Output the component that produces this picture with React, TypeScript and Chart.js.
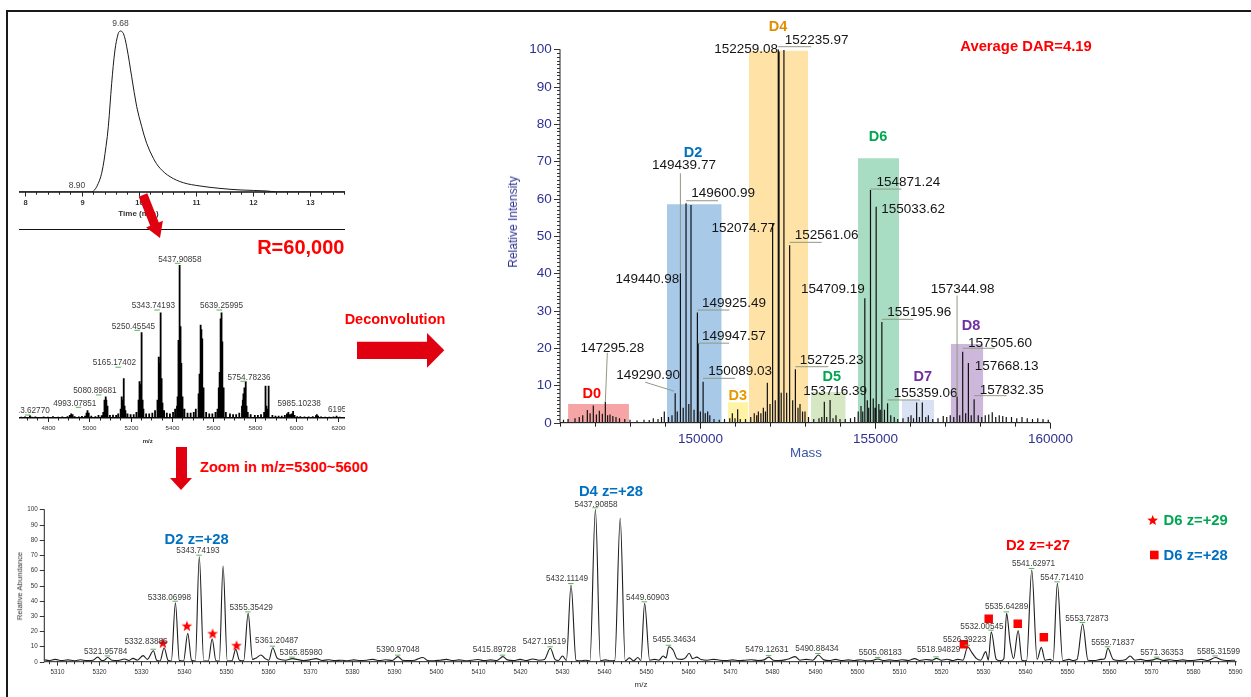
import React, { useEffect, useRef } from "react";
import { Chart, registerables } from "chart.js";

Chart.register(...registerables);

const FONT = "'Liberation Sans', Arial, Helvetica, sans-serif";
const RED = "#e0000f";
const NAVY = "#2e3192";

// ---------------- total ion chromatogram ----------------
const ticTime = [7.9, 8.9, 9.175, 9.263, 9.35, 9.426, 9.467, 9.526, 9.584, 9.642, 9.68, 9.73, 9.789, 9.877, 9.965, 10.053, 10.14, 10.257, 10.374, 10.549, 10.783, 11.075, 11.426, 11.777, 12.245, 12.42, 13.619];
const ticIntensity = [0, 0, 0, 3.1, 10.9, 26.4, 38, 63.2, 82.6, 92.3, 93.6, 92.3, 84.5, 67, 49.6, 38, 28.3, 19.6, 13.8, 8.9, 5.4, 3.5, 2.1, 1.2, 0.6, 0, 0];
const ticMarkedTimes = [9.68, 8.9];

// ---------------- full-scan mass spectrum: [m/z, relative abundance] ----------------
const msPeaks = [
  [4672, 0.8], [4690, 1.0], [4700, 0.6], [4713.6277, 1.8], [4722, 0.8], [4740, 1.0], [4760, 0.7], [4780, 1.0],
  [4800, 0.8], [4825, 1.2], [4850, 0.8], [4870, 1.0], [4895, 1.2], [4906, 2.0], [4913, 3.0], [4920, 2.5],
  [4930, 1.2], [4950, 1.0], [4965, 1.3], [4980, 1.5], [4987, 3.5], [4990, 4.0], [4993.07851, 5.0], [4996, 3.5],
  [4999, 2.0], [5010, 1.5], [5030, 1.2], [5045, 2.0], [5060, 1.8],
  [5068, 4], [5072, 9], [5075, 12], [5078, 13], [5080.89681, 14], [5083, 12], [5086, 8], [5090, 4],
  [5100, 2], [5115, 2.2], [5130, 2], [5140, 3],
  [5152, 6], [5155, 14], [5158, 10], [5162, 12], [5165.17402, 26], [5168, 16], [5171, 8], [5175, 5],
  [5185, 3], [5200, 2.5], [5215, 2.5], [5228, 4],
  [5236, 6], [5240, 12], [5243, 24], [5246, 22], [5248, 20], [5250.45545, 56], [5253, 30], [5255, 16], [5258, 12], [5262, 6],
  [5275, 3], [5290, 3], [5305, 3.5], [5318, 5],
  [5328, 6], [5331, 12], [5334, 25], [5337, 40], [5339, 36], [5341, 30], [5343.74193, 69], [5346, 40], [5348, 26], [5351, 18], [5354, 10],
  [5362, 5], [5375, 3.5], [5390, 3], [5405, 4], [5415, 6],
  [5424, 8], [5427, 14], [5429, 30], [5431, 51], [5433, 48], [5435, 40], [5437.90858, 100], [5440, 60], [5442, 45], [5444, 36], [5446, 30], [5449, 14], [5452, 8],
  [5460, 6], [5475, 3.5], [5490, 3.5], [5505, 4], [5515, 6],
  [5526, 8], [5530, 16], [5533, 29], [5536, 40], [5538, 50], [5540, 61], [5542, 58], [5545, 52], [5547, 30], [5550, 20], [5554, 10],
  [5565, 4], [5580, 3], [5595, 3], [5610, 4], [5620, 6],
  [5624, 10], [5627, 20], [5630, 30], [5633, 45], [5636, 65], [5639.25995, 69], [5642, 50], [5644, 33], [5647, 20], [5651, 10],
  [5660, 4], [5680, 3], [5695, 2.5], [5710, 2.5], [5725, 3.5],
  [5738, 8], [5742, 12], [5745, 16], [5748, 14], [5751, 20], [5754.78236, 24], [5757, 14], [5760, 8], [5766, 4],
  [5780, 2.5], [5800, 2], [5815, 2], [5830, 2.5], [5845, 4],
  [5850, 6], [5853, 21], [5856, 8], [5862, 6], [5865, 21], [5868, 6],
  [5885, 2], [5900, 1.5], [5915, 1.5], [5930, 1.5], [5945, 2], [5955, 3], [5962, 4], [5970, 2.5], [5978, 3], [5985.10238, 4.5], [5992, 2],
  [6005, 1.2], [6020, 1.2], [6040, 1], [6060, 1], [6080, 1.2], [6095, 1.8], [6100, 2.5], [6106, 1.5], [6120, 1], [6140, 0.8],
  [6160, 0.8], [6180, 1], [6195, 1.5], [6210, 0.8], [6230, 0.7],
];
const msLabelMz = [4713.6277, 4993.07851, 5080.89681, 5165.17402, 5250.45545, 5343.74193, 5437.90858, 5639.25995, 5754.78236, 5985.10238, 6195];
const msLabelText = ["4713.62770", "4993.07851", "5080.89681", "5165.17402", "5250.45545", "5343.74193", "5437.90858", "5639.25995", "5754.78236", "5985.10238", "6195"];

// ---------------- deconvoluted spectrum ----------------
const decoMass = [146100, 146230, 146429, 146550, 146650, 146781, 146860, 146952, 147040, 147124, 147210, 147295.28, 147360, 147429, 147510, 147600, 147700, 147850, 148000, 148200, 148400, 148550, 148666, 148800, 148900, 148980, 149100, 149200, 149290.9, 149350, 149439.77, 149440.98, 149520, 149600.99, 149680, 149743, 149830, 149925.49, 149947.57, 150010, 150089.03, 150150, 150219, 150280, 150400, 150550, 150700, 150850, 150924, 151000, 151076, 151150, 151300, 151450, 151550, 151620, 151667, 151740, 151810, 151870, 151924, 152000, 152074.77, 152150, 152235.97, 152259.08, 152320, 152398, 152476, 152561.06, 152648, 152725.23, 152800, 152857, 152930, 153000, 153100, 153250, 153400, 153480, 153552, 153620, 153716.39, 153800, 153886, 154000, 154150, 154300, 154420, 154520, 154600, 154650, 154709.19, 154780, 154820, 154871.24, 154950, 155000, 155033.62, 155110, 155150, 155195.96, 155270, 155359.06, 155450, 155550, 155650, 155800, 155950, 156029, 156100, 156190, 156270, 156352, 156450, 156524, 156650, 156800, 156950, 157050, 157150, 157250, 157344.98, 157420, 157505.6, 157590, 157668.13, 157750, 157832.35, 157950, 158050, 158150, 158250, 158350, 158450, 158550, 158650, 158750, 158900, 159050, 159200, 159350, 159500, 159650, 159800, 159950];
const decoIntensity = [0.8, 1.0, 1.2, 1.5, 2.0, 3.4, 2.5, 4.6, 2.2, 3.2, 2.4, 5.6, 2.0, 2.2, 1.8, 1.5, 1.2, 1.0, 0.8, 0.6, 0.8, 0.7, 1.2, 1.0, 1.5, 3.0, 1.5, 2.0, 7.9, 3.0, 40, 38, 4.0, 58.8, 5.0, 58.3, 3.5, 29.5, 21.3, 3.0, 11.0, 2.5, 3.0, 2.0, 1.0, 0.8, 1.0, 1.2, 2.5, 1.2, 3.6, 1.0, 1.0, 1.5, 2.5, 2.0, 3.0, 2.5, 4.0, 3.0, 10.7, 5.0, 53.4, 6.0, 100, 99.4, 8.0, 99.8, 8.0, 47.5, 6.0, 14.3, 4.0, 5.0, 3.0, 3.0, 1.5, 1.0, 1.2, 1.5, 5.6, 1.5, 6.1, 1.2, 2.0, 1.0, 1.0, 1.2, 1.5, 3.0, 4.5, 3.0, 33.3, 6.0, 4.0, 62.3, 6.5, 4.0, 57.8, 5.0, 3.5, 27.0, 3.5, 5.2, 2.0, 1.5, 1.0, 1.2, 1.5, 2.0, 1.2, 5.4, 1.5, 5.4, 1.5, 2.0, 1.0, 1.2, 1.8, 1.5, 2.0, 1.5, 7.0, 2.0, 19.0, 2.5, 16.0, 2.0, 6.3, 2.0, 1.5, 2.0, 2.2, 2.8, 1.5, 2.0, 1.8, 1.5, 1.5, 1.2, 1.5, 1.2, 1.0, 1.2, 1.0, 0.8];
const decoLabelMass = [147295.28, 149290.9, 149439.77, 149440.98, 149600.99, 149925.49, 149947.57, 150089.03, 152074.77, 152235.97, 152259.08, 152561.06, 152725.23, 153716.39, 154709.19, 154871.24, 155033.62, 155195.96, 155359.06, 157344.98, 157505.6, 157668.13, 157832.35];

// drug-load species windows
const bandNames = ["D0", "D2", "D3", "D4", "D5", "D6", "D7", "D8"];
const bandStart = [146230, 149057, 150800, 151400, 153171, 154514, 155763, 157163];
const bandEnd = [147970, 150620, 151371, 153086, 154163, 155686, 156686, 158094];
const bandTop = [5.0, 58.5, 5.5, 99.6, 8.2, 70.8, 6.1, 21.1];

// ---------------- zoomed spectrum m/z 5300-5600 ----------------
const zoomMz = [5307, 5308, 5309.5, 5311, 5312.5, 5314, 5315.5, 5317, 5318.5, 5319.6, 5320.6, 5321.2, 5321.95784, 5323, 5324.5, 5326, 5327, 5328, 5329, 5330.4, 5331.4, 5332.83886, 5333.6, 5334.4, 5335.4, 5336.3, 5337.1, 5338.06998, 5339.0, 5340.0, 5341.0, 5341.9, 5342.8, 5343.74193, 5344.8, 5345.9, 5346.8, 5347.7, 5348.5, 5349.4, 5350.4, 5351.5, 5352.4, 5353.3, 5354.3, 5355.35429, 5356.4, 5357.3, 5358.4, 5359.4, 5360.3, 5361.20487, 5362.2, 5363.0, 5364.2, 5365.8598, 5367, 5368.5, 5370, 5371.5, 5373, 5374.5, 5376, 5377.5, 5379, 5380.5, 5382, 5383.5, 5385, 5386.5, 5388, 5389.6, 5390.97048, 5392, 5393.5, 5395, 5396.9, 5398, 5399.5, 5401, 5402.5, 5404, 5405.5, 5407, 5408.5, 5410, 5411.5, 5413, 5414.5, 5415.89728, 5417, 5418.5, 5420, 5421.5, 5423, 5424.5, 5425.8, 5427.19519, 5428.3, 5429.1, 5430.1, 5431.0, 5432.11149, 5433.3, 5434.5, 5435.5, 5436.6, 5437.90858, 5439.1, 5440.3, 5441.3, 5442.5, 5443.8, 5445.0, 5446.0, 5447.0, 5448.0, 5448.7, 5449.60903, 5450.8, 5452, 5453, 5454, 5454.7, 5455.34634, 5456.4, 5457.3, 5458.5, 5459.3, 5460.2, 5461, 5462, 5463, 5464.5, 5466, 5467.5, 5469, 5470.5, 5472, 5473.5, 5475, 5476.5, 5478, 5479.12631, 5480.2, 5481.5, 5483, 5484, 5485.4, 5486.5, 5488, 5489.6, 5490.88434, 5492.2, 5493.5, 5495, 5496.5, 5498, 5499.5, 5501, 5502.5, 5504, 5505.08183, 5506.3, 5507.8, 5509.3, 5510.8, 5512.3, 5513.8, 5515, 5516.5, 5518, 5518.94829, 5520.2, 5521.5, 5522.8, 5524, 5525.3, 5526.39223, 5527.4, 5528.5, 5529.5, 5530.7, 5531.3, 5532.00545, 5533.2, 5534.3, 5535.0, 5535.64289, 5536.5, 5537.3, 5538.4, 5539.3, 5540.4, 5541.62971, 5542.9, 5543.9, 5544.8, 5546.0, 5546.7, 5547.7141, 5549.0, 5550.5, 5551.5, 5552.4, 5553.72873, 5555.0, 5556.5, 5558, 5559.0, 5559.71837, 5561, 5562.5, 5564, 5565, 5566.2, 5567.5, 5569, 5570.5, 5571.36353, 5573, 5574.5, 5576, 5577.5, 5579, 5580.5, 5582, 5583.5, 5585.31599, 5586.5, 5588, 5590];
const zoomAbundance = [1.2, 0.8, 1.5, 0.8, 1.2, 0.6, 1.3, 0.7, 1.0, 3.0, 0.8, 1.0, 2.8, 1.0, 0.8, 1.8, 0.8, 2.2, 1.0, 4.0, 1.5, 7.2, 1.0, 0.5, 9.2, 1.0, 0.5, 38.7, 0.8, 0.5, 18.6, 1.0, 0.5, 68.9, 0.5, 0.5, 15.1, 0.6, 0.4, 62.8, 0.5, 0.6, 8.1, 1.0, 0.6, 31.7, 1.5, 2.5, 4.4, 2.0, 1.0, 9.2, 2.5, 1.5, 1.0, 2.0, 1.5, 0.8, 1.2, 2.0, 0.8, 1.3, 0.7, 1.0, 0.6, 1.2, 0.8, 1.0, 1.5, 0.7, 1.3, 0.8, 3.3, 1.0, 0.7, 1.0, 2.8, 0.8, 0.6, 1.0, 1.5, 0.7, 1.2, 0.6, 1.0, 1.4, 0.7, 1.2, 0.8, 3.3, 1.2, 0.8, 1.5, 0.7, 1.8, 1.0, 1.5, 8.8, 1.5, 0.8, 3.7, 0.8, 50.3, 1.0, 0.6, 1.0, 0.5, 100, 0.8, 1.2, 0.6, 0.8, 94.1, 0.6, 2.5, 0.6, 2.8, 0.8, 38.3, 1.0, 1.5, 1.0, 3.7, 2.5, 9.8, 7.5, 2.0, 1.5, 2.5, 5.5, 2.0, 3.0, 1.5, 1.0, 1.5, 1.0, 0.8, 1.2, 0.7, 1.0, 1.3, 0.8, 1.2, 3.0, 1.0, 0.8, 1.2, 2.0, 3.3, 1.0, 1.5, 1.0, 4.4, 1.2, 0.8, 1.5, 0.7, 1.2, 0.8, 1.3, 0.6, 1.0, 1.8, 0.8, 1.2, 0.7, 1.3, 0.8, 2.0, 0.8, 1.4, 1.0, 2.2, 1.0, 1.6, 0.8, 1.5, 1.0, 9.8, 6.0, 2.0, 1.0, 6.6, 1.0, 19.7, 1.5, 0.6, 2.0, 31.7, 12.0, 2.0, 20.4, 1.0, 0.6, 60.2, 1.5, 9.4, 1.0, 1.5, 0.6, 51.4, 0.8, 1.5, 0.8, 1.5, 24.7, 1.0, 0.8, 1.5, 2.0, 8.8, 1.5, 0.8, 1.5, 3.7, 1.0, 1.5, 0.7, 1.2, 2.0, 0.8, 1.3, 0.7, 1.2, 0.8, 1.0, 1.5, 0.8, 2.8, 1.5, 0.8, 1.0];
const zoomLabelMz = [5321.95784, 5332.83886, 5338.06998, 5343.74193, 5355.35429, 5361.20487, 5365.8598, 5390.97048, 5415.89728, 5427.19519, 5432.11149, 5437.90858, 5449.60903, 5455.34634, 5479.12631, 5490.88434, 5505.08183, 5518.94829, 5526.39223, 5532.00545, 5535.64289, 5541.62971, 5547.7141, 5553.72873, 5559.71837, 5571.36353, 5585.31599];
// D6 isotope markers
const starMz = [5335.1, 5340.8, 5346.9, 5352.6];
const starLevel = [12.5, 23.6, 18.6, 10.8];
const squareMz = [5525.5, 5531.4, 5538.3, 5544.5];
const squareLevel = [11.4, 28.2, 24.9, 16.0];

// ---------------- label layout (pixel offsets from the mark) ----------------
const ticLabelOffset = [[0, -7], [1, -6.3]];
const msLabelOffset = [[-1.8, -4.2], [-13, -7], [-11, -5.6], [-9, -15], [-7.6, -6], [-7, -6.4], [0, -5.7], [0, -6.4], [3.6, -4], [6, -7], [0.6, -5.7]];
const decoLabelOffset = [[7, -54], [-27, -17.5], [3.6, -107.6], [-33, -1.8], [37, -9.8], [36.6, -9.2], [35.8, -6.5], [37, -10], [-29.3, 5], [38.4, -9.3], [-33, -2.2], [37, -10.3], [36.3, -9.3], [5, -9], [-32, -9.4], [37.8, -7.8], [37, 2], [37.4, -9.2], [38, -10], [5.6, -107.3], [37.3, -8.5], [38.3, 3.7], [37.6, -9.2]];
const decoLeader = [[0, 0, 2, -49], [-1, -2, -30, -11], [0, -1, 0, -100], null, [0, -2.4, 32, -2.4], [0, -2.5, 32, -2.5], [0, 0, 31, 0], [0, -3.3, 32, -3.3], null, [0, -2.6, 33, -2.6], null, [0, -3, 32, -3], [0, -2.6, 33, -2.6], null, null, [0, -1, 31, -1], null, [0, -2.6, 31.4, -2.6], [0, -3.3, 32.4, -3.3], [0, 0, 0, -101], [0, -3.5, 32, -3.5], null, [0, -3.5, 32.5, -3.5]];
const bandLabelOffset = [[-6.8, -9.7], [-1.3, -51], [-0.3, -6.3], [-0.5, -23.7], [3.4, -15.3], [-0.5, -21], [5, -23.3], [4, -18.3]];
const bandFill = ["#f5a5a5", "#a9c9e9", "#fff3a6", "#ffe3a6", "#d6e7c4", "#a8dcc3", "#d9e2f4", "#cdb8dc"];
const bandLabelColor = ["#ff0000", "#0070c0", "#e69a00", "#e38d00", "#00a651", "#00a651", "#7030a0", "#7030a0"];
const zoomLabelOffset = [[-2, -5.5], [-7.4, -9], [-6, -5.4], [-1.3, -6.4], [3, -6], [4, -6.7], [8.7, -6.4], [0, -6.7], [-8.5, -6.7], [-6, -6.6], [-4, -6], [0.6, -5], [3, -5.6], [5.5, -7], [-2, -7], [-1.3, -6], [2.3, -6.3], [2.3, -8.3], [-3, -6.8], [-9.3, -5], [0, -6.7], [1.8, -6.7], [4.6, -6], [4.3, -5.8], [5, -5.6], [5, -6], [3, -5.4]];

// ---------------- helpers ----------------
function sticks(xs, ys, x0, x1) {
  const pts = [{ x: x0, y: 0 }];
  xs.forEach((x, i) => {
    pts.push({ x, y: 0 }, { x, y: ys[i] }, { x, y: 0 });
  });
  pts.push({ x: x1, y: 0 });
  return pts;
}

function pairs(xs, ys) {
  return xs.map((x, i) => ({ x, y: ys[i] }));
}

function baseOptions(pad, xMin, xMax, yMin, yMax) {
  return {
    responsive: false,
    maintainAspectRatio: false,
    animation: false,
    devicePixelRatio: 1,
    events: [],
    layout: { padding: pad },
    plugins: { legend: { display: false }, tooltip: { enabled: false }, title: { display: false } },
    scales: {
      x: { type: "linear", min: xMin, max: xMax, display: false },
      y: { type: "linear", min: yMin, max: yMax, display: false },
    },
  };
}

function drawBottomAxis(chart, s) {
  const { ctx, chartArea: a } = chart;
  const sx = chart.scales.x;
  ctx.save();
  ctx.strokeStyle = s.lineColor;
  ctx.lineWidth = s.lineWidth;
  const y0 = a.bottom;
  ctx.beginPath();
  ctx.moveTo(a.left, y0);
  ctx.lineTo(a.right, y0);
  ctx.stroke();
  ctx.lineWidth = 1;
  ctx.strokeStyle = s.tickColor;
  ctx.font = s.font;
  ctx.fillStyle = s.color;
  ctx.textAlign = "center";
  ctx.textBaseline = "middle";
  const n0 = Math.ceil(sx.min / s.minor - 1e-6);
  const n1 = Math.floor(sx.max / s.minor + 1e-6);
  for (let n = n0; n <= n1; n++) {
    const v = n * s.minor;
    const x = Math.round(sx.getPixelForValue(v)) + 0.5;
    const major = n % s.every === 0;
    ctx.beginPath();
    ctx.moveTo(x, y0);
    ctx.lineTo(x, y0 + (major ? s.majorLen : s.minorLen));
    ctx.stroke();
    if (major && s.label) ctx.fillText(s.label(Math.round(v * 1000) / 1000), x, y0 + s.gap);
  }
  ctx.restore();
}

function drawLeftAxis(chart, s) {
  const { ctx, chartArea: a } = chart;
  const sy = chart.scales.y;
  ctx.save();
  ctx.strokeStyle = s.lineColor;
  ctx.lineWidth = s.lineWidth;
  const x0 = a.left;
  ctx.beginPath();
  ctx.moveTo(x0, a.bottom);
  ctx.lineTo(x0, a.top);
  ctx.stroke();
  ctx.lineWidth = 1;
  ctx.strokeStyle = s.tickColor;
  ctx.font = s.font;
  ctx.fillStyle = s.color;
  ctx.textAlign = "right";
  ctx.textBaseline = "middle";
  const n0 = Math.ceil(sy.min / s.minor - 1e-6);
  const n1 = Math.floor(sy.max / s.minor + 1e-6);
  for (let n = n0; n <= n1; n++) {
    const v = n * s.minor;
    const y = Math.round(sy.getPixelForValue(v)) + 0.5;
    const major = n % s.every === 0;
    ctx.beginPath();
    ctx.moveTo(x0, y);
    ctx.lineTo(x0 - (major ? s.majorLen : s.minorLen), y);
    ctx.stroke();
    if (major && s.label) ctx.fillText(s.label(Math.round(v)), x0 - s.gap, y);
  }
  ctx.restore();
}

function starPath(ctx, cx, cy, ro, ri) {
  ctx.beginPath();
  for (let k = 0; k < 10; k++) {
    const r = k % 2 === 0 ? ro : ri;
    const ang = -Math.PI / 2 + (k * Math.PI) / 5;
    const px = cx + r * Math.cos(ang);
    const py = cy + r * Math.sin(ang);
    if (k === 0) ctx.moveTo(px, py);
    else ctx.lineTo(px, py);
  }
  ctx.closePath();
}

function starImage(ro, color) {
  const c = document.createElement("canvas");
  const size = Math.ceil(ro * 2 + 2);
  c.width = size;
  c.height = size;
  const g = c.getContext("2d");
  g.fillStyle = color;
  starPath(g, size / 2, size / 2 + 0.6, ro, ro * 0.42);
  g.fill();
  return c;
}

function greenMark(ctx, px, py) {
  ctx.save();
  ctx.strokeStyle = "#57b55a";
  ctx.lineWidth = 1;
  ctx.beginPath();
  ctx.moveTo(px - 5, py - 2.5);
  ctx.lineTo(px + 0.5, py - 2.5);
  ctx.stroke();
  ctx.restore();
}

// ---------------- chart configs ----------------
function ticConfig() {
  const plugin = {
    id: "ticAxes",
    afterDraw(chart) {
      drawBottomAxis(chart, {
        minor: 0.2, every: 5, majorLen: 4.5, minorLen: 2.7, gap: 11.3,
        lineColor: "#111", lineWidth: 1.6, tickColor: "#222",
        font: `bold 7.5px ${FONT}`, color: "#333", label: (v) => String(v),
      });
      const { ctx } = chart;
      const sx = chart.scales.x, sy = chart.scales.y;
      ctx.save();
      ctx.font = `8.5px ${FONT}`;
      ctx.fillStyle = "#444";
      ctx.textAlign = "center";
      ctx.textBaseline = "middle";
      ticMarkedTimes.forEach((t, i) => {
        const k = ticTime.indexOf(t);
        const px = sx.getPixelForValue(t), py = sy.getPixelForValue(ticIntensity[k]);
        ctx.fillText(t.toFixed(2), px + ticLabelOffset[i][0], py + ticLabelOffset[i][1]);
      });
      ctx.restore();
    },
  };
  return {
    type: "line",
    data: {
      datasets: [{
        data: pairs(ticTime, ticIntensity),
        borderColor: "#1a1a1a", borderWidth: 1, pointRadius: 0, tension: 0.35, fill: false,
      }],
    },
    options: baseOptions({ left: 19, right: 15, top: 8, bottom: 42 }, 7.9, 13.619, 0, 100),
    plugins: [plugin],
  };
}

function msConfig() {
  const xMin = 4660.9, xMax = 6235.7;
  const mz = msPeaks.map((p) => p[0]);
  const ab = msPeaks.map((p) => p[1]);
  const plugin = {
    id: "msAxes",
    afterDraw(chart) {
      drawBottomAxis(chart, {
        minor: 50, every: 4, majorLen: 4, minorLen: 2.5, gap: 10.3,
        lineColor: "#111", lineWidth: 1.2, tickColor: "#222",
        font: `6.2px ${FONT}`, color: "#333", label: (v) => String(v),
      });
      const { ctx, chartArea: a } = chart;
      const sx = chart.scales.x, sy = chart.scales.y;
      ctx.save();
      ctx.beginPath();
      ctx.rect(a.left, 0, a.right - a.left, chart.height);
      ctx.clip();
      ctx.font = `8.2px ${FONT}`;
      ctx.fillStyle = "#3a3a3a";
      ctx.textAlign = "center";
      ctx.textBaseline = "middle";
      msLabelMz.forEach((m, i) => {
        const k = mz.indexOf(m);
        const px = sx.getPixelForValue(m), py = sy.getPixelForValue(ab[k]);
        const lx = px + msLabelOffset[i][0], ly = py + msLabelOffset[i][1];
        ctx.fillText(msLabelText[i], lx, ly);
        if (i < 9) greenMark(ctx, Math.min(px, lx + 6), ly + 6.5);
      });
      ctx.restore();
    },
  };
  return {
    type: "line",
    data: {
      datasets: [{
        data: sticks(mz, ab, xMin, xMax),
        borderColor: "#000", borderWidth: 1.8, borderJoinStyle: "bevel", pointRadius: 0, tension: 0, fill: false,
      }],
    },
    options: baseOptions({ left: 19, right: 15, top: 29, bottom: 34 }, xMin, xMax, 0, 100),
    plugins: [plugin],
  };
}

function decoConfig() {
  const xMin = 146000, xMax = 160000;
  const plugin = {
    id: "decoAnnotations",
    afterDraw(chart) {
      drawBottomAxis(chart, {
        minor: 1000, every: 5, majorLen: 6, minorLen: 4, gap: 16.6,
        lineColor: "#222", lineWidth: 1, tickColor: "#222",
        font: `13.5px ${FONT}`, color: NAVY, label: (v) => String(v),
      });
      drawLeftAxis(chart, {
        minor: 1, every: 10, majorLen: 6, minorLen: 3, gap: 8.3,
        lineColor: "#222", lineWidth: 1, tickColor: "#333",
        font: `13.5px ${FONT}`, color: NAVY, label: (v) => String(v),
      });
      const { ctx } = chart;
      const sx = chart.scales.x, sy = chart.scales.y;
      ctx.save();
      ctx.textAlign = "center";
      ctx.textBaseline = "middle";
      // species labels above their windows
      ctx.font = `bold 14.5px ${FONT}`;
      bandNames.forEach((name, i) => {
        const cx = (sx.getPixelForValue(bandStart[i]) + sx.getPixelForValue(bandEnd[i])) / 2 + bandLabelOffset[i][0];
        const cy = sy.getPixelForValue(bandTop[i]) + bandLabelOffset[i][1];
        ctx.fillStyle = bandLabelColor[i];
        ctx.fillText(name, cx, cy);
      });
      // peak masses with leader lines
      ctx.font = `13.5px ${FONT}`;
      decoLabelMass.forEach((m, i) => {
        const k = decoMass.indexOf(m);
        const px = sx.getPixelForValue(m), py = sy.getPixelForValue(decoIntensity[k]);
        const ld = decoLeader[i];
        if (ld) {
          ctx.strokeStyle = "#8e9a80";
          ctx.lineWidth = 1;
          ctx.beginPath();
          ctx.moveTo(px + ld[0], py + ld[1]);
          ctx.lineTo(px + ld[2], py + ld[3]);
          ctx.stroke();
        }
        ctx.fillStyle = "#151515";
        ctx.fillText(m.toFixed(2), px + decoLabelOffset[i][0], py + decoLabelOffset[i][1]);
      });
      ctx.restore();
    },
  };
  const bandSets = bandNames.map((name, i) => ({
    label: name,
    data: [{ x: bandStart[i], y: bandTop[i] }, { x: bandEnd[i], y: bandTop[i] }],
    borderWidth: 0, borderColor: "rgba(0,0,0,0)", backgroundColor: bandFill[i],
    pointRadius: 0, fill: "origin", order: 5,
  }));
  return {
    type: "line",
    data: {
      datasets: [
        {
          label: "spectrum",
          data: sticks(decoMass, decoIntensity, xMin, xMax),
          borderColor: "#111", borderWidth: 1.2, borderJoinStyle: "bevel", pointRadius: 0, tension: 0, fill: false, order: 0,
        },
        ...bandSets,
      ],
    },
    options: baseOptions({ left: 80, right: 30, top: 34.3, bottom: 44.3 }, xMin, xMax, 0, 100),
    plugins: [plugin],
  };
}

function zoomConfig() {
  const xMin = 5306.9, xMax = 5590.35;
  const plugin = {
    id: "zoomAnnotations",
    afterDraw(chart) {
      drawBottomAxis(chart, {
        minor: 2, every: 5, majorLen: 4, minorLen: 2.5, gap: 11,
        lineColor: "#222", lineWidth: 1, tickColor: "#333",
        font: `6.3px ${FONT}`, color: "#333", label: (v) => String(v),
      });
      drawLeftAxis(chart, {
        minor: 10, every: 1, majorLen: 4.5, minorLen: 3, gap: 6.6,
        lineColor: "#222", lineWidth: 1, tickColor: "#333",
        font: `6.3px ${FONT}`, color: "#333", label: (v) => String(v),
      });
      const { ctx } = chart;
      const sx = chart.scales.x, sy = chart.scales.y;
      ctx.save();
      ctx.font = `8.2px ${FONT}`;
      ctx.fillStyle = "#3a3a3a";
      ctx.textAlign = "center";
      ctx.textBaseline = "middle";
      zoomLabelMz.forEach((m, i) => {
        const k = zoomMz.indexOf(m);
        const px = sx.getPixelForValue(m), py = sy.getPixelForValue(zoomAbundance[k]);
        const lx = px + zoomLabelOffset[i][0], ly = py + zoomLabelOffset[i][1];
        ctx.fillText(m.toFixed(5), lx, ly);
        greenMark(ctx, px + 2, py + 1);
      });
      ctx.restore();
    },
  };
  return {
    type: "line",
    data: {
      datasets: [
        {
          label: "D6 z=+29",
          data: pairs(starMz, starLevel),
          showLine: false, pointStyle: starImage(5.6, "#ff0000"), pointRadius: 6, order: 0,
        },
        {
          label: "D6 z=+28",
          data: pairs(squareMz, squareLevel),
          showLine: false, pointStyle: "rect", pointRadius: 6, pointBackgroundColor: "#ff0000",
          pointBorderWidth: 0, pointBorderColor: "#ff0000", order: 0,
        },
        {
          label: "profile",
          data: pairs(zoomMz, zoomAbundance),
          borderColor: "#1e1e1e", borderWidth: 1.1, pointRadius: 0, cubicInterpolationMode: "monotone",
          fill: false, order: 2,
        },
      ],
    },
    options: baseOptions({ left: 44.3, right: 14.3, top: 14.3, bottom: 35.3 }, xMin, xMax, 0, 100),
    plugins: [plugin],
  };
}

// ---------------- components ----------------
function ChartCanvas({ left, top, width, height, make }) {
  const ref = useRef(null);
  useEffect(() => {
    const chart = new Chart(ref.current, make());
    return () => chart.destroy();
  }, []);
  return (
    <canvas
      ref={ref}
      width={width}
      height={height}
      style={{ position: "absolute", left, top, width, height }}
    />
  );
}

function Txt({ x, y, size, color = "#000", bold = false, rotate = 0, children }) {
  return (
    <div
      style={{
        position: "absolute",
        left: x,
        top: y,
        transform: `translate(-50%, -50%) rotate(${rotate}deg)`,
        fontFamily: FONT,
        fontSize: size,
        fontWeight: bold ? 700 : 400,
        color,
        whiteSpace: "nowrap",
        lineHeight: 1,
      }}
    >
      {children}
    </div>
  );
}

function arrowPoints(sx, sy, ex, ey, shaft, head, headLen) {
  const len = Math.hypot(ex - sx, ey - sy);
  const dx = (ex - sx) / len, dy = (ey - sy) / len;
  const nx = -dy, ny = dx;
  const bx = ex - dx * headLen, by = ey - dy * headLen;
  const p = [
    [sx + nx * shaft, sy + ny * shaft],
    [bx + nx * shaft, by + ny * shaft],
    [bx + nx * head, by + ny * head],
    [ex, ey],
    [bx - nx * head, by - ny * head],
    [bx - nx * shaft, by - ny * shaft],
    [sx - nx * shaft, sy - ny * shaft],
  ];
  return p.map((q) => q[0].toFixed(1) + "," + q[1].toFixed(1)).join(" ");
}

function starPolygon(cx, cy, ro, ri) {
  const pts = [];
  for (let k = 0; k < 10; k++) {
    const r = k % 2 === 0 ? ro : ri;
    const ang = -Math.PI / 2 + (k * Math.PI) / 5;
    pts.push((cx + r * Math.cos(ang)).toFixed(1) + "," + (cy + r * Math.sin(ang)).toFixed(1));
  }
  return pts.join(" ");
}

export default function App() {
  return (
    <div
      style={{
        position: "absolute",
        left: 0,
        top: 0,
        width: 1251,
        height: 697,
        overflow: "hidden",
        background: "#fff",
        fontFamily: FONT,
      }}
    >
      <ChartCanvas left={0} top={12} width={360} height={222} make={ticConfig} />
      <ChartCanvas left={0} top={236} width={360} height={216} make={msConfig} />
      <ChartCanvas left={480} top={15} width={600} height={452} make={decoConfig} />
      <ChartCanvas left={0} top={495} width={1251} height={202} make={zoomConfig} />

      <Txt x={138.5} y={214} size={8} bold color="#333">Time (min)</Txt>
      <Txt x={147.7} y={440.7} size={6} bold color="#333">m/z</Txt>
      <Txt x={641} y={685} size={8} color="#333">m/z</Txt>
      <Txt x={20} y={586} size={7.7} color="#333" rotate={-90}>Relative Abundance</Txt>
      <Txt x={513} y={222} size={12} color={NAVY} rotate={-90}>Relative Intensity</Txt>
      <Txt x={806} y={453} size={13.4} color="#3b55a5">Mass</Txt>

      <Txt x={300.8} y={246.7} size={20} bold color="#ff0000">R=60,000</Txt>
      <Txt x={395} y={319.3} size={14.5} bold color="#ff0000">Deconvolution</Txt>
      <Txt x={284} y={467} size={14.7} bold color="#ff0000">Zoom in m/z=5300~5600</Txt>
      <Txt x={1026} y={46} size={14.8} bold color="#ff0000">Average DAR=4.19</Txt>

      <Txt x={196.7} y={539} size={14.8} bold color="#0070c0">D2 z=+28</Txt>
      <Txt x={611} y={490.7} size={14.8} bold color="#0070c0">D4 z=+28</Txt>
      <Txt x={1038} y={545} size={14.8} bold color="#ff0000">D2 z=+27</Txt>
      <Txt x={1195.7} y={520} size={14.8} bold color="#00a651">D6 z=+29</Txt>
      <Txt x={1195.7} y={555} size={14.8} bold color="#0070c0">D6 z=+28</Txt>

      <svg
        width={1251}
        height={697}
        style={{ position: "absolute", left: 0, top: 0, pointerEvents: "none" }}
      >
        <line x1={7} y1={11} x2={1251} y2={11} stroke="#1a1a1a" strokeWidth={2} />
        <line x1={7} y1={10} x2={7} y2={697} stroke="#1a1a1a" strokeWidth={2} />
        <line x1={19} y1={229.5} x2={345} y2={229.5} stroke="#111" strokeWidth={1} />
        <polygon points={arrowPoints(143, 195, 160, 238, 4.6, 9, 15)} fill={RED} />
        <polygon points="357,341.7 427,341.7 427,333 444.3,350.3 427,367.7 427,359 357,359" fill={RED} />
        <polygon points="176,447 187,447 187,478 192,478 181,490 170,478 176,478" fill={RED} />
        <polygon points={starPolygon(1152.7, 520.5, 5.6, 2.4)} fill="#ff0000" />
        <rect x={1150} y={550.7} width={8.6} height={8.6} fill="#ff0000" />
      </svg>
    </div>
  );
}
